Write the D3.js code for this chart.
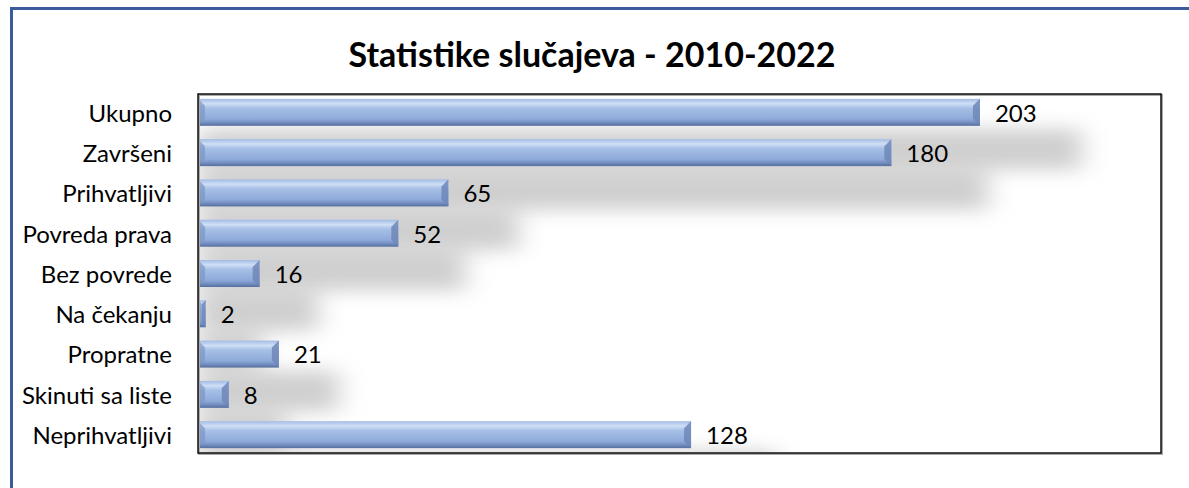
<!DOCTYPE html>
<html>
<head>
<meta charset="utf-8">
<script src="https://cdn.jsdelivr.net/npm/d3@7"></script>
<style>
  body { margin: 0; background: #fff; }
  text { font-family: Lato, "Noto Sans", sans-serif; }
</style>
</head>
<body>
<script>
// data
var categories = ['Ukupno', 'Završeni', 'Prihvatljivi', 'Povreda prava', 'Bez povrede',
                  'Na čekanju', 'Propratne', 'Skinuti sa liste', 'Neprihvatljivi'];
var values = [203, 180, 65, 52, 16, 2, 21, 8, 128];
var chartTitle = 'Statistike slučajeva - 2010-2022';

var svg = d3.select('body').append('svg')
    .attr('width', 1189)
    .attr('height', 488)
    .style('display', 'block');

margin = {top: 94, right: 28, bottom: 35, left: 198};
width = 1189 - margin.left - margin.right;
height = 488 - margin.top - margin.bottom;

var defs = svg.append('defs');

// bar gradient (glossy bevel look)
var grad = defs.append('linearGradient')
    .attr('id', 'barGrad')
    .attr('x1', 0).attr('y1', 0).attr('x2', 0).attr('y2', 1);
grad.append('stop').attr('offset', '0%').attr('stop-color', '#a3bce5');
grad.append('stop').attr('offset', '18%').attr('stop-color', '#cfdff5');
grad.append('stop').attr('offset', '35%').attr('stop-color', '#a6bfe6');
grad.append('stop').attr('offset', '75%').attr('stop-color', '#8eaad9');
grad.append('stop').attr('offset', '88%').attr('stop-color', '#728dc0');
grad.append('stop').attr('offset', '100%').attr('stop-color', '#566e9e');

var blur = defs.append('filter')
    .attr('id', 'shadowBlur')
    .attr('x', '-40%').attr('y', '-150%')
    .attr('width', '180%').attr('height', '400%');
blur.append('feGaussianBlur').attr('stdDeviation', '13 9');

defs.append('clipPath')
    .attr('id', 'plotClip')
    .append('rect')
    .attr('x', 0).attr('y', 0)
    .attr('width', width).attr('height', height);

// outer blue frame
svg.append('rect')
    .attr('x', 11.5).attr('y', 8.5)
    .attr('width', 1200).attr('height', 520)
    .attr('fill', 'none')
    .attr('stroke', '#3b5c9a')
    .attr('stroke-width', 3);

// title
svg.append('text')
    .attr('x', 592)
    .attr('y', 67)
    .attr('text-anchor', 'middle')
    .style('font-size', '34px')
    .style('font-weight', 'bold')
    .text(chartTitle);

var x = d3.scaleLinear().domain([0, 250]).range([0, width]);
var y = d3.scaleBand().domain(categories).range([0, height]).paddingInner(0.33).paddingOuter(0.12);

var g = svg.append('g').attr('transform', 'translate(' + margin.left + ',' + margin.top + ')');

// soft shadows
g.append('g')
    .attr('clip-path', 'url(#plotClip)')
    .selectAll('rect')
    .data(values)
    .enter()
    .append('rect')
    .attr('x', 0)
    .attr('y', function (d, i) { return y(categories[i]) + 30; })
    .attr('width', function (d) { return x(d) * 1.06 + 55; })
    .attr('height', y.bandwidth() + 14)
    .attr('fill', '#b0b0b0')
    .attr('opacity', 0.6)
    .attr('filter', 'url(#shadowBlur)');

// bars
var bars = g.selectAll('.bar')
    .data(values)
    .enter()
    .append('g')
    .attr('class', 'bar');

bars.append('rect')
    .attr('x', 0)
    .attr('y', function (d, i) { return y(categories[i]); })
    .attr('width', function (d) { return x(d); })
    .attr('height', y.bandwidth())
    .attr('fill', 'url(#barGrad)');

// bevelled right end
bars.append('path')
    .attr('d', function (d, i) {
        var x1 = x(d), y0 = y(categories[i]), h = y.bandwidth();
        var b = Math.min(7, x1 / 2);
        return 'M' + x1 + ',' + y0 + 'L' + (x1 - b) + ',' + (y0 + b) + 'L' + (x1 - b) + ',' + (y0 + h - b) +
            'L' + x1 + ',' + (y0 + h) + 'Z';
    })
    .attr('fill', '#6e87b8')
    .attr('opacity', 0.85);

// bevelled left end
bars.append('path')
    .attr('d', function (d, i) {
        var y0 = y(categories[i]), h = y.bandwidth();
        var b = Math.min(7, x(d) / 2);
        return 'M0,' + y0 + 'L' + b + ',' + (y0 + b) + 'L' + b + ',' + (y0 + h - b) + 'L0,' + (y0 + h) + 'Z';
    })
    .attr('fill', '#7c95c4')
    .attr('opacity', 0.7);

// value labels
g.selectAll('.val')
    .data(values)
    .enter()
    .append('text')
    .attr('class', 'val')
    .attr('x', function (d) { return x(d) + 15; })
    .attr('y', function (d, i) { return y(categories[i]) + y.bandwidth() / 2 + 1; })
    .attr('dy', '0.35em')
    .style('font-size', '24px')
    .text(function (d) { return d; });

// category labels
g.selectAll('.cat')
    .data(categories)
    .enter()
    .append('text')
    .attr('class', 'cat')
    .attr('x', -26)
    .attr('y', function (d) { return y(d) + y.bandwidth() / 2 + 1; })
    .attr('dy', '0.35em')
    .attr('text-anchor', 'end')
    .style('font-size', '24px')
    .text(function (d) { return d; });

// plot area frame
g.append('rect')
    .attr('x', 1).attr('y', 1)
    .attr('width', width).attr('height', height)
    .attr('fill', 'none')
    .attr('stroke', '#aaa')
    .attr('stroke-width', 2);
g.append('rect')
    .attr('x', 0).attr('y', 0)
    .attr('width', width).attr('height', height)
    .attr('fill', 'none')
    .attr('stroke', '#111')
    .attr('stroke-width', 1.5);
</script>
</body>
</html>
